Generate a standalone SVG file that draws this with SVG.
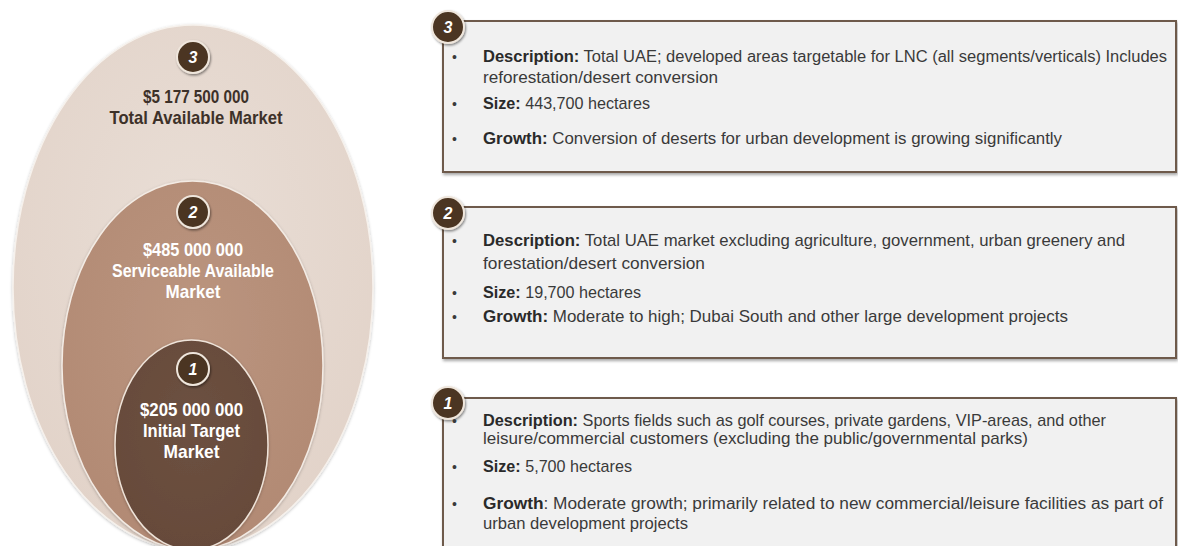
<svg xmlns="http://www.w3.org/2000/svg" width="1178" height="546" viewBox="0 0 1178 546">
<style>
.bt{font-family:"Liberation Sans Narrow","Liberation Sans",Arial,sans-serif;font-size:17px;fill:#3a3a3a}
.sm{font-size:16px}
.b{font-weight:bold;fill:#2a2a2a}
.bul{font-family:"Liberation Sans",Arial,sans-serif;font-size:14px;fill:#3a3a3a}
.lbl{font-family:"Liberation Sans Narrow","Liberation Sans",Arial,sans-serif;font-size:18.5px;font-weight:bold;text-anchor:middle}
.num{font-family:"Liberation Sans",Arial,sans-serif;font-size:16px;font-weight:bold;font-style:italic;fill:#ffffff;text-anchor:middle}
.box{fill:#f1f1f1;stroke:#6e5a4b;stroke-width:2;filter:url(#sh)}
.badge{fill:#4b3521;stroke:#efe6dc;stroke-width:2;filter:url(#sh2)}
</style>
<defs>
<filter id="sh" x="-5%" y="-5%" width="110%" height="115%"><feDropShadow dx="1" dy="2" stdDeviation="1.5" flood-color="#000" flood-opacity="0.35"/></filter>
<filter id="sh2" x="-30%" y="-30%" width="160%" height="160%"><feDropShadow dx="1" dy="1.5" stdDeviation="1.2" flood-color="#000" flood-opacity="0.45"/></filter>
<filter id="esh" x="-10%" y="-10%" width="120%" height="120%"><feDropShadow dx="0" dy="1" stdDeviation="1.5" flood-color="#000" flood-opacity="0.25"/></filter>
<radialGradient id="g3" cx="50%" cy="40%" r="60%"><stop offset="0" stop-color="#e9ded6"/><stop offset="1" stop-color="#e2d3c9"/></radialGradient>
<radialGradient id="g2" cx="50%" cy="40%" r="60%"><stop offset="0" stop-color="#bb957f"/><stop offset="1" stop-color="#b28a74"/></radialGradient>
<radialGradient id="g1" cx="50%" cy="40%" r="60%"><stop offset="0" stop-color="#6d5141"/><stop offset="1" stop-color="#664a3a"/></radialGradient>
</defs>
<rect width="1178" height="546" fill="#ffffff"/>

<g id="market-3">
<ellipse cx="193" cy="287.5" rx="180" ry="262.5" fill="url(#g3)" stroke="#f6f1ec" stroke-width="1.5" filter="url(#esh)"/>
<circle class="badge" cx="193" cy="57" r="16"/>
<text class="num" x="193" y="63">3</text>
<text class="lbl" x="196" y="103" fill="#3d3129" textLength="106" lengthAdjust="spacingAndGlyphs">$5 177 500 000</text>
<text class="lbl" x="196" y="124" fill="#3d3129" textLength="173" lengthAdjust="spacingAndGlyphs">Total Available Market</text>
</g>

<g id="market-2">
<ellipse cx="192.5" cy="365.5" rx="130.5" ry="184.5" fill="url(#g2)" stroke="#f3ebe4" stroke-width="1.5" filter="url(#esh)"/>
<circle class="badge" cx="193" cy="212" r="16"/>
<text class="num" x="193" y="218">2</text>
<text class="lbl" x="193" y="256" fill="#ffffff" textLength="100" lengthAdjust="spacingAndGlyphs">$485 000 000</text>
<text class="lbl" x="193" y="277" fill="#ffffff" textLength="162" lengthAdjust="spacingAndGlyphs">Serviceable Available</text>
<text class="lbl" x="193" y="298" fill="#ffffff" textLength="55" lengthAdjust="spacingAndGlyphs">Market</text>
</g>

<g id="market-1">
<ellipse cx="191.5" cy="445" rx="76.5" ry="105" fill="url(#g1)" stroke="#efe4da" stroke-width="1.5" filter="url(#esh)"/>
<circle class="badge" cx="193" cy="369" r="16"/>
<text class="num" x="193" y="375">1</text>
<text class="lbl" x="191.5" y="416" fill="#ffffff" textLength="103" lengthAdjust="spacingAndGlyphs">$205 000 000</text>
<text class="lbl" x="191.5" y="437" fill="#ffffff" textLength="97" lengthAdjust="spacingAndGlyphs">Initial Target</text>
<text class="lbl" x="191.5" y="458" fill="#ffffff" textLength="56" lengthAdjust="spacingAndGlyphs">Market</text>
</g>

<g id="connectors"></g>

<g id="box-3">
<rect class="box" x="443" y="21" width="733" height="151"/>
<circle class="badge" cx="448" cy="27" r="16"/>
<text class="num" x="448" y="33">3</text>
<text class="bul" x="452" y="62">•</text>
<text class="bt sm" x="483" y="62" textLength="684" lengthAdjust="spacingAndGlyphs"><tspan class="b">Description:</tspan> Total UAE; developed areas targetable for LNC (all segments/verticals) Includes</text>
<text class="bt" x="483" y="83" textLength="235" lengthAdjust="spacingAndGlyphs">reforestation/desert conversion</text>
<text class="bul" x="452" y="109">•</text>
<text class="bt" x="483" y="109" textLength="167" lengthAdjust="spacingAndGlyphs"><tspan class="b">Size:</tspan> 443,700 hectares</text>
<text class="bul" x="452" y="144">•</text>
<text class="bt" x="483" y="144" textLength="579" lengthAdjust="spacingAndGlyphs"><tspan class="b">Growth:</tspan> Conversion of deserts for urban development is growing significantly</text>
</g>

<g id="box-2">
<rect class="box" x="443" y="207" width="733" height="151"/>
<circle class="badge" cx="448" cy="213" r="16"/>
<text class="num" x="448" y="219">2</text>
<text class="bul" x="452" y="246">•</text>
<text class="bt" x="483" y="246" textLength="642" lengthAdjust="spacingAndGlyphs"><tspan class="b">Description:</tspan> Total UAE market excluding agriculture, government, urban greenery and</text>
<text class="bt" x="483" y="269" textLength="222" lengthAdjust="spacingAndGlyphs">forestation/desert conversion</text>
<text class="bul" x="452" y="298">•</text>
<text class="bt" x="483" y="298" textLength="158" lengthAdjust="spacingAndGlyphs"><tspan class="b">Size:</tspan> 19,700 hectares</text>
<text class="bul" x="452" y="322">•</text>
<text class="bt" x="483" y="322" textLength="585" lengthAdjust="spacingAndGlyphs"><tspan class="b">Growth:</tspan> Moderate to high; Dubai South and other large development projects</text>
</g>

<g id="box-1">
<rect class="box" x="443" y="398" width="733" height="160"/>
<circle class="badge" cx="448" cy="403" r="16"/>
<text class="num" x="448" y="409">1</text>
<text class="bul" x="452" y="426">•</text>
<text class="bt" x="483" y="426" textLength="623" lengthAdjust="spacingAndGlyphs"><tspan class="b">Description:</tspan> Sports fields such as golf courses, private gardens, VIP-areas, and other</text>
<text class="bt" x="483" y="444" textLength="545" lengthAdjust="spacingAndGlyphs">leisure/commercial customers (excluding the public/governmental parks)</text>
<text class="bul" x="452" y="472">•</text>
<text class="bt" x="483" y="472" textLength="149" lengthAdjust="spacingAndGlyphs"><tspan class="b">Size:</tspan> 5,700 hectares</text>
<text class="bul" x="452" y="509">•</text>
<text class="bt sm" x="483" y="509" textLength="680" lengthAdjust="spacingAndGlyphs"><tspan class="b">Growth</tspan>: Moderate growth; primarily related to new commercial/leisure facilities as part of</text>
<text class="bt" x="483" y="529" textLength="205" lengthAdjust="spacingAndGlyphs">urban development projects</text>
</g>
</svg>
